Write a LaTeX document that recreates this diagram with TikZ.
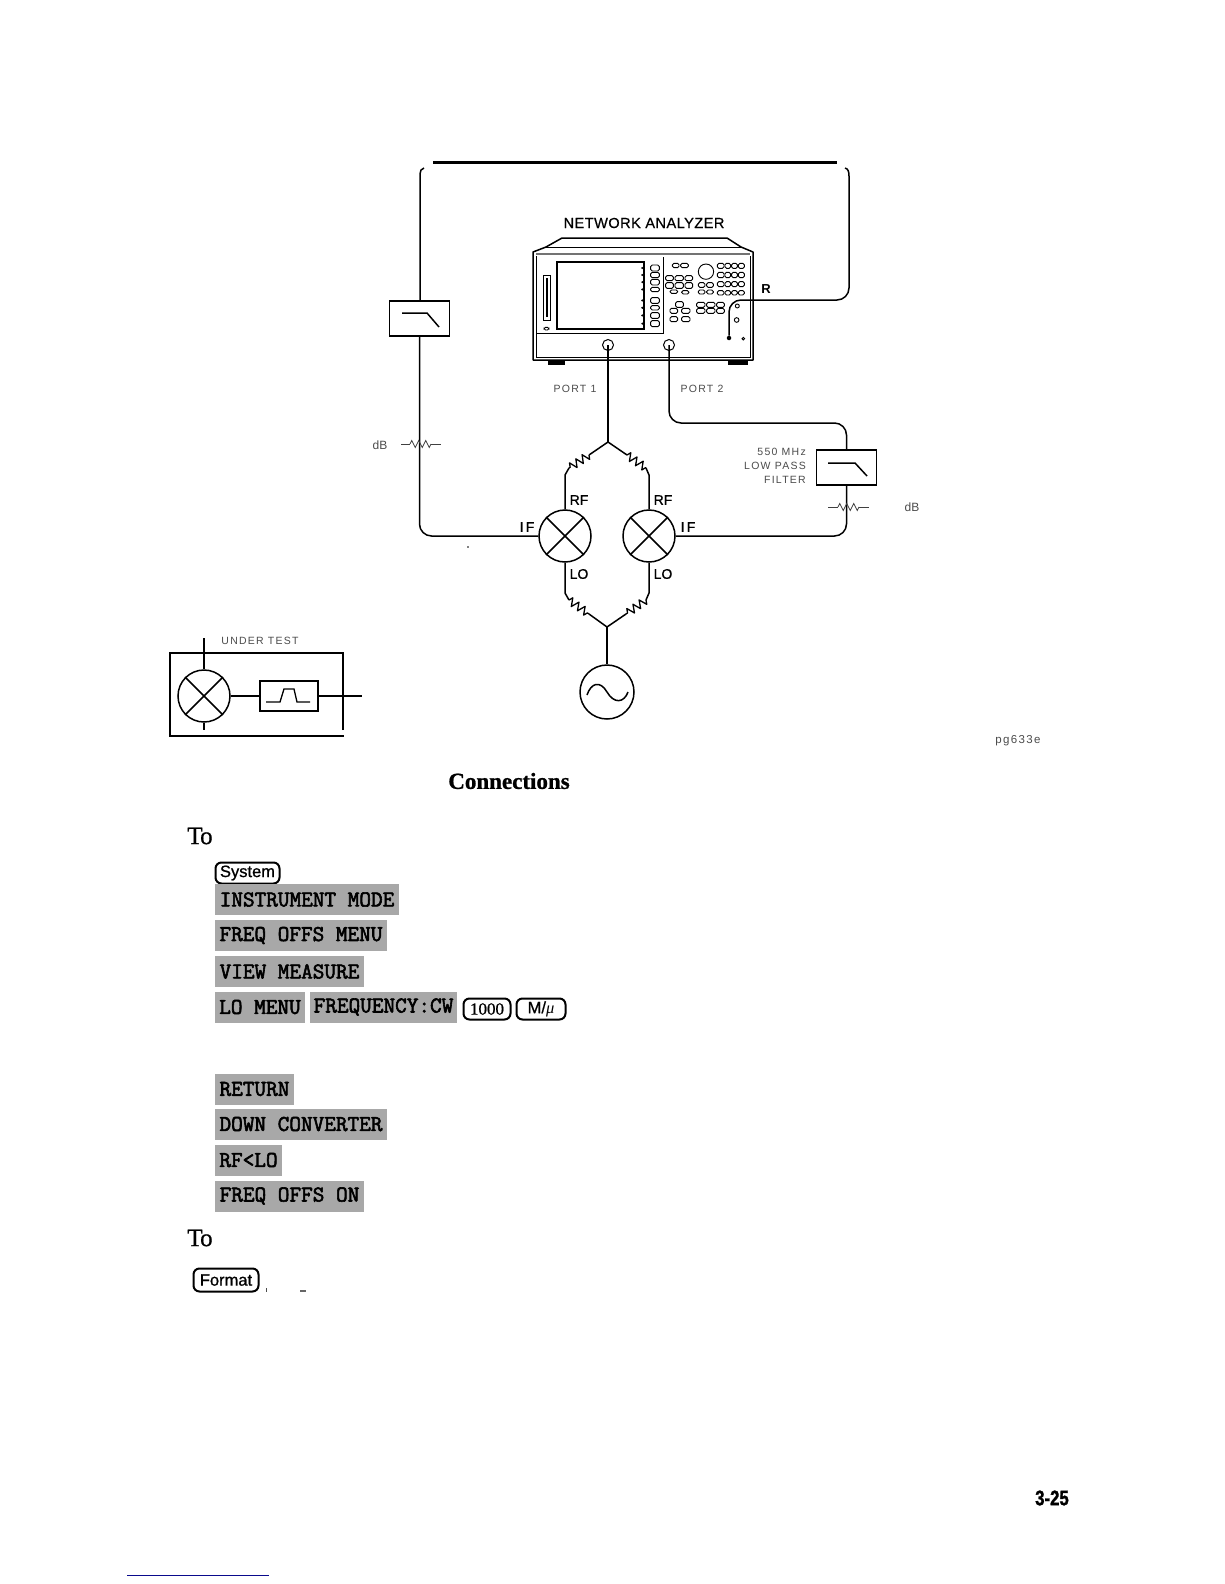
\documentclass[tikz,border=0pt]{standalone}
\usepackage{fontspec}
\setmainfont{Liberation Serif}
\setsansfont{Liberation Sans}
\newfontfamily\thinf[LetterSpace=12]{Liberation Sans}
\newfontfamily\wideF[LetterSpace=3,FakeBold=.6]{Liberation Sans}
\newfontfamily\ifF[LetterSpace=16,FakeBold=.6]{Liberation Sans}
\newfontfamily\medF[FakeBold=.8]{Liberation Sans}
\newfontfamily\hvyF[FakeBold=1.6]{Liberation Sans Bold}
\newfontfamily\headF[FakeBold=1]{Liberation Serif Bold}
\newfontfamily\toF[FakeBold=.6]{Liberation Serif}
\newfontfamily\softf[FakeBold=2.6]{Latin Modern Mono}
\usetikzlibrary{decorations.pathmorphing}
\newcommand{\fsz}[1]{\fontsize{#1}{#1}\selectfont}
\newcommand{\pk}[4]{\draw[panel,rounded corners=1.5pt] (#1,#2) rectangle (#3,#4);}
\tikzset{
  wire/.style={line width=1.5pt,line join=round},
  wirer/.style={wire,rounded corners=12pt},
  res/.style={wire,line width=1.3pt,decorate,decoration={zigzag,segment length=7.5pt,amplitude=4pt}},
  atten/.style={line width=.8pt,black!75,decorate,decoration={zigzag,segment length=7pt,amplitude=3.5pt}},
  attenl/.style={line width=.8pt,black!75},
  filt/.style={draw,line width=1.6pt,minimum width=60pt,minimum height=35pt,inner sep=0pt},
  mixer/.style={draw,circle,line width=1.5pt,minimum size=52pt,inner sep=0pt},
  lab/.style={font=\medF\fsz{14},inner sep=0pt},
  thin/.style={font=\thinf\fsz{10.5},text=black!70,inner sep=0pt},
  panel/.style={line width=.9pt},
  softkey/.style={fill=black!34,text=black,font=\softf\fsz{22.6},inner sep=0pt,anchor=center},
  hardkey/.style={draw,line width=2pt,rounded corners=6pt,inner sep=0pt,font=\medF\fsz{16.5}},
  head/.style={inner sep=0pt,font=\headF\fsz{23}},
  tolab/.style={inner sep=0pt,font=\toF\fsz{25}}
}
\begin{document}
\begin{tikzpicture}[x=1pt,y=-1pt]
\useasboundingbox[fill=white] (0,0) rectangle (1224,1584);
% top thick line
\coordinate (tl) at (433,162); \coordinate (tr) at (837,162);
\draw[line width=3pt] (tl) -- (tr);
% analyzer
\draw[line width=1.5pt,line join=round] (533,252) -- (546,247) -- (562,238) -- (727,238) -- (741,247) -- (753,252) -- (753,360) -- (533,360) -- cycle;
\draw[line width=1pt] (546,247) -- (741,247);
\draw[line width=2.2pt,black!55] (536,254) -- (750,254);
\draw[line width=.8pt] (536,256) -- (536,357) -- (750,357) -- (750,256);
\fill (548,361) rectangle (565,364.5);
\fill (728,361) rectangle (748,364.5);
\begin{scope}[shift={(525,230)},x=.3333pt,y=-.3333pt]
\draw[line width=.8pt] (35,310) -- (415,310) -- (415,80);
\draw[line width=2pt] (95,97) rectangle (358,296);
\draw[panel] (55,137) rectangle (75,270);
\fill (62,145) rectangle (70,262);
\pk{57}{292}{72}{300}
\foreach \a/\b in {105/123,127/143,148/165,172/185,203/220,227/240,248/265,272/290}{
  \pk{377}{\a}{403}{\b}
  \fill (352,{(\a+\b)/2}) circle (3.5);
}
\pk{442}{100}{462}{113}\pk{467}{100}{490}{113}
\foreach \a/\b in {137/152,158/175}{\pk{422}{\a}{445}{\b}\pk{450}{\a}{475}{\b}\pk{480}{\a}{503}{\b}}
\pk{435}{180}{458}{190}\pk{470}{182}{492}{192}
\draw[panel] (543,125) circle (23);
\foreach \a/\b in {100/115,127/143,155/170,182/195}{\pk{577}{\a}{597}{\b}\pk{600}{\a}{617}{\b}\pk{620}{\a}{637}{\b}\pk{640}{\a}{658}{\b}}
\foreach \a/\b in {158/172,180/192}{\pk{520}{\a}{540}{\b}\pk{545}{\a}{565}{\b}}
\foreach \a/\b in {217/232,235/250}{\pk{515}{\a}{540}{\b}\pk{545}{\a}{570}{\b}\pk{575}{\a}{598}{\b}}
\pk{452}{215}{475}{232}
\foreach \a/\b in {235/250,260/275}{\pk{435}{\a}{458}{\b}\pk{470}{\a}{495}{\b}}
\draw[panel] (637,228) circle (6);
\draw[panel] (635,270) circle (7);
\draw[panel] (655,326) circle (4);
\end{scope}
\node[draw,circle,line width=1pt,minimum size=11pt,inner sep=0pt] (p1) at (608,345) {};
\node[draw,circle,line width=1pt,minimum size=11pt,inner sep=0pt] (p2) at (669,345) {};
\node[circle,fill,minimum size=4.5pt,inner sep=0pt] (rp) at (729,338) {};
% labels top
\node[font=\wideF\fsz{14.6},inner sep=0pt] (na) at (644,223) {NETWORK ANALYZER};
\node[lab,font=\sffamily\bfseries\fsz{13}] (rl) at (766,289) {R};
\node[thin] (pl1) at (575,389) {PORT 1};
\node[thin] (pl2) at (702,389) {PORT 2};
% left filter
\node[filt] (lf) at (419.5,318.5) {};
\draw[line width=1.5pt] (402,313) -- (427,313) -- (439,327);
% right filter
\node[filt] (rf) at (846.5,467.5) {};
\draw[line width=1.5pt] (828,463) -- (855,463) -- (867,476);
% mixers
\node[mixer] (m1) at (565,536) {};
\node[mixer] (m2) at (649,536) {};
\foreach \m in {m1,m2}{
 \draw[line width=1.5pt] (\m.45) -- (\m.225);
 \draw[line width=1.5pt] (\m.135) -- (\m.315);
}
% wires: left path
\coordinate (la) at (424,168);
\coordinate (lb) at (420,174);
\draw[wire] (la) to[out=190,in=90] (lb) -- (lb |- lf.north);
\draw[wirer] (lf.south) -- (lf.south |- m1.west) -- (m1.west);
% right R cable
\coordinate (ra) at (845,168);
\coordinate (rb) at (849,176);
\coordinate (rc) at (849,300);
\draw[wire] (ra) to[out=-10,in=90] (rb);
\draw[wire,rounded corners=12pt] (rb) -- (rc) -- (729,300) -- (rp);
% port lines and junctions
\coordinate (jt) at (608,442);
\coordinate (jb) at (607,627);
\coordinate (a1) at (589,455); \coordinate (a2) at (569,468); \coordinate (a3) at (565,475);
\coordinate (b1) at (627,455); \coordinate (b2) at (646,468); \coordinate (b3) at (649,475);
\coordinate (c1) at (589,614); \coordinate (c2) at (569,600); \coordinate (c3) at (565,593);
\coordinate (d1) at (626,614); \coordinate (d2) at (646,600); \coordinate (d3) at (649,593);
\draw[wire] (p1.center) -- (jt);
\draw[wire] (jt) -- (a1); \draw[res] (a1) -- (a2); \draw[wire] (a2) -- (a3) -- (m1.north);
\draw[wire] (jt) -- (b1); \draw[res] (b1) -- (b2); \draw[wire] (b2) -- (b3) -- (m2.north);
\draw[wire] (m1.south) -- (c3) -- (c2); \draw[res] (c2) -- (c1); \draw[wire] (c1) -- (jb);
\draw[wire] (m2.south) -- (d3) -- (d2); \draw[res] (d2) -- (d1); \draw[wire] (d1) -- (jb);
\node[draw,circle,line width=1.5pt,minimum size=54pt,inner sep=0pt] (gen) at (607,692) {};
\draw[wire] (jb) -- (gen.north);
\draw[line width=1.5pt] (587,695) .. controls (591,683) and (600,680) .. (607,692) .. controls (614,704) and (624,703) .. (628,692);
% port 2 to right filter
\coordinate (q1) at (669,423);
\draw[wirer] (p2.center) -- (q1) -- (rf.north |- q1) -- (rf.north);
\draw[wirer] (rf.south) -- (rf.south |- m2.east) -- (m2.east);
% attenuators
\coordinate (al1) at (401,444); \coordinate (al2) at (410,444); \coordinate (al3) at (431,444); \coordinate (al4) at (441,444);
\draw[attenl] (al1) -- (al2); \draw[atten] (al2) -- (al3); \draw[attenl] (al3) -- (al4);
\coordinate (ar1) at (828,507); \coordinate (ar2) at (838,507); \coordinate (ar3) at (859,507); \coordinate (ar4) at (869,507);
\draw[attenl] (ar1) -- (ar2); \draw[atten] (ar2) -- (ar3); \draw[attenl] (ar3) -- (ar4);
\node[thin,font=\sffamily\fsz{12}] (db1) at (380,445) {dB};
\node[thin,font=\sffamily\fsz{12}] (db2) at (912,507.5) {dB};
\node[thin,anchor=east] (t1) at (806,452) {550 MHz};
\node[thin,anchor=east] (t2) at (806,466) {LOW PASS};
\node[thin,anchor=east] (t3) at (806,480) {FILTER};
\node[lab] (rf1) at (579,500) {RF};
\node[lab] (rf2) at (663,500) {RF};
\node[lab,font=\ifF\fsz{14}] (if1) at (527,527) {IF};
\node[lab,font=\ifF\fsz{14}] (if2) at (688,527) {IF};
\node[lab] (lo1) at (579,574) {LO};
\node[lab] (lo2) at (663,574) {LO};
\fill (468,547) circle (.8);
% device under test
\node[thin] (ut) at (260,641) {UNDER TEST};
\draw[line width=1.8pt] (343,730) -- (343,653) -- (170,653) -- (170,736) -- (344,736);
\node[mixer] (dm) at (204,696) {};
\draw[line width=1.5pt] (dm.45) -- (dm.225);
\draw[line width=1.5pt] (dm.135) -- (dm.315);
\coordinate (dt) at (204,638); \coordinate (db) at (204,730); \coordinate (dr) at (362,696);
\draw[wire] (dt) -- (dm.north);
\draw[wire] (dm.south) -- (db);
\node[filt,minimum width=58pt,minimum height=30pt] (bp) at (289,696) {};
\draw[wire] (dm.east) -- (bp.west);
\draw[wire] (bp.east) -- (dr);
\draw[line width=1.3pt] (266,702) -- (280,702) -- (284,689) -- (294,689) -- (297,702) -- (310,702);
% text
\node[thin,font=\thinf\fsz{11.5}] (pg) at (1018,741) {pg633e};
\node[head] (conn) at (509,781) {Connections};
\node[tolab] (to1) at (200,836) {T\kern-2.5pt o};
\node[hardkey,minimum width=64pt,minimum height=21pt] (sys) at (247.5,873) {System};
\node[softkey,minimum width=184pt,minimum height=31pt] (s1) at (307,899.5) {INSTRUMENT MODE};
\node[softkey,minimum width=172pt,minimum height=31pt] (s2) at (301,935.5) {FREQ OFFS MENU};
\node[softkey,minimum width=149pt,minimum height=31pt] (s3) at (289.5,971.5) {VIEW MEASURE};
\node[softkey,minimum width=90pt,minimum height=31pt] (s4) at (260,1007) {LO MENU};
\node[softkey,minimum width=147pt,minimum height=31pt] (s5) at (383.5,1007) {FREQUENCY:CW};
\node[hardkey,minimum width=47pt,minimum height=21pt,font=\toF\fsz{17}] (k1) at (487,1009) {1000};
\node[hardkey,minimum width=49pt,minimum height=21pt] (k2) at (541,1009) {M/\textit{\rmfamily μ}};
\node[softkey,minimum width=79pt,minimum height=31pt] (s6) at (254.5,1089) {RETURN};
\node[softkey,minimum width=172pt,minimum height=31pt] (s7) at (301,1124) {DOWN CONVERTER};
\node[softkey,minimum width=67pt,minimum height=31pt] (s8) at (248.5,1160) {RF<LO};
\node[softkey,minimum width=149pt,minimum height=31pt] (s9) at (289.5,1196) {FREQ OFFS ON};
\node[tolab] (to2) at (200,1238) {T\kern-2.5pt o};
\node[hardkey,minimum width=65pt,minimum height=23pt] (fm) at (226,1280) {Format};
\fill[black!70] (265.5,1288) rectangle (266.5,1292);
\fill[black!60] (300,1290) rectangle (306,1292);
\node[inner sep=0pt,font=\hvyF\fsz{21}] (pn) at (1052,1498) {\scalebox{.8}[1]{3-25}};
\coordinate (bl) at (127,1575); \coordinate (br) at (269,1575);
\draw[line width=1pt,color={rgb,255:red,10;green,10;blue,140}] (bl) -- (br);
\end{tikzpicture}
\end{document}
